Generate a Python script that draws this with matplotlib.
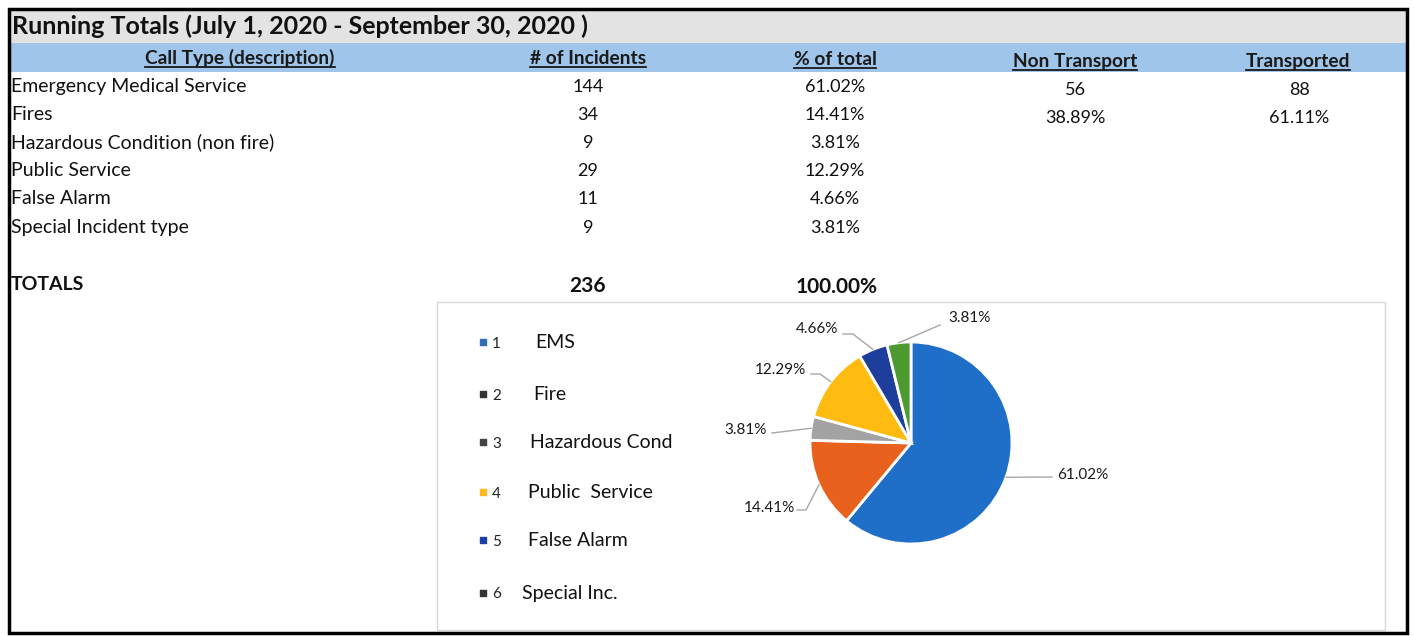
import numpy as np
import matplotlib
matplotlib.use("Agg")
import matplotlib.pyplot as plt
from matplotlib.patches import Rectangle

plt.rcParams['font.family'] = ['Lato', 'DejaVu Sans']

# data
title = "Running Totals (July 1, 2020 - September 30, 2020 )"
headers = ["Call Type (description)", "# of Incidents", "% of total", "Non Transport", "Transported"]
call_types = ["Emergency Medical Service", "Fires", "Hazardous Condition (non fire)",
              "Public Service", "False Alarm", "Special Incident type"]
incidents = [144, 34, 9, 29, 11, 9]
non_transport = ["56", "38.89%"]
transported = ["88", "61.11%"]
legend_nums = ["1", "2", "3", "4", "5", "6"]
legend_names = ["EMS", "Fire", "Hazardous Cond", "Public  Service", "False Alarm", "Special Inc."]
pie_colors = ["#1f6fc8", "#e8621e", "#a3a3a3", "#ffbb10", "#1e3e9c", "#4c9a30"]
legend_marker_colors = ["#2f6fb8", "#333333", "#444444", "#ffb820", "#1e3ea8", "#333333"]

total = sum(incidents)
pct = [100.0 * v / total for v in incidents]

W, H = 1414, 636
fig = plt.figure(figsize=(W / 100, H / 100), dpi=100)
ax = fig.add_axes([0, 0, 1, 1])
ax.set_xlim(0, W)
ax.set_ylim(H, 0)
ax.axis('off')

# bands
ax.add_patch(Rectangle((10, 10), 1396, 33, color="#e3e3e3", lw=0))
ax.add_patch(Rectangle((10, 43), 1396, 29, color="#9fc5ea", lw=0))

ax.text(12, 34, title, fontsize=18, fontweight='bold', va='baseline', ha='left', color="#111111")

# headers (underlined)
head_x = [240, 588, 835, 1075, 1298]
head_y = [64, 64, 65, 67, 67]
head_txt = []
for name, x, y in zip(headers, head_x, head_y):
    t = ax.text(x, y, name, fontsize=13.8, fontweight='bold', ha='center', va='baseline', color="#1a1a1a")
    head_txt.append((t, y))

# rows
row_y = [92, 120, 148, 176, 204, 233]
for i, name in enumerate(call_types):
    y = row_y[i]
    ax.text(11, y, name, fontsize=14, ha='left', va='baseline', color="#111111")
    ax.text(588, y, str(incidents[i]), fontsize=13, ha='center', va='baseline', color="#111111")
    ax.text(835, y, "%.2f%%" % pct[i], fontsize=13, ha='center', va='baseline', color="#111111")
for i in range(len(non_transport)):
    y = row_y[i] + 3
    ax.text(1075, y, non_transport[i], fontsize=13, ha='center', va='baseline', color="#111111")
    ax.text(1299, y, transported[i], fontsize=13, ha='center', va='baseline', color="#111111")

ax.text(11, 290, "TOTALS", fontsize=14, fontweight='bold', ha='left', va='baseline', color="#111111")
ax.text(588, 292, str(total), fontsize=15, fontweight='bold', ha='center', va='baseline', color="#111111")
ax.text(837, 293, "%.2f%%" % sum(pct), fontsize=15, fontweight='bold', ha='center', va='baseline', color="#111111")

# chart box
ax.add_patch(Rectangle((437, 302), 948, 328, fill=False, ec="#d8d8d8", lw=1))

# legend
leg_y = [342, 394, 442, 492, 540, 593]
leg_lx = [535, 533, 530, 528, 528, 522]
for i in range(len(legend_nums)):
    ax.scatter([483], [leg_y[i]], marker='s', s=14, color=legend_marker_colors[i], zorder=3)
    ax.text(492, leg_y[i] + 1.5, legend_nums[i], fontsize=11, ha='left', va='center', color="#222222")
    ax.text(leg_lx[i], leg_y[i], legend_names[i], fontsize=14, ha='left', va='center', color="#111111")

# pie (y axis points down, so counterclock in data = clockwise on screen)
cx, cy, r = 911, 443, 101
wedges, _ = ax.pie(incidents, colors=pie_colors, startangle=-90, counterclock=True,
                   center=(cx, cy), radius=r, frame=True,
                   wedgeprops=dict(edgecolor='white', linewidth=2))
ax.set_xlim(0, W)
ax.set_ylim(H, 0)
ax.axis('off')

# label layout: text pos, alignment, extra leader points (after edge point)
lab_pos = [(1057, 475, 'left'), (795, 508, 'right'), (767, 430, 'right'),
           (806, 370, 'right'), (838, 329, 'right'), (948, 318, 'left')]
lab_path = [[(1052, 477)], [(806, 510), (797, 510)], [(772, 433)],
            [(820, 374), (811, 374)], [(853, 334), (843, 334)], [(940, 325)]]
for w, p, (tx, ty, ha), pts in zip(wedges, pct, lab_pos, lab_path):
    ang = np.deg2rad((w.theta1 + w.theta2) / 2)
    ex, ey = cx + r * np.cos(ang), cy + r * np.sin(ang)
    xs = [ex] + [q[0] for q in pts]
    ys = [ey] + [q[1] for q in pts]
    ax.plot(xs, ys, color="#a6a6a6", lw=1, zorder=1)
    ax.text(tx, ty, "%.2f%%" % p, fontsize=11, ha=ha, va='center', color="#1a1a1a")

# underlines for headers
fig.canvas.draw()
inv = ax.transData.inverted()
for t, y in head_txt:
    bb = t.get_window_extent()
    x0 = inv.transform((bb.x0, bb.y0))[0]
    x1 = inv.transform((bb.x1, bb.y0))[0]
    ax.plot([x0, x1], [y + 3, y + 3], color="#1a1a1a", lw=1.3)

# outer border
ax.add_patch(Rectangle((9, 9), 1398, 624, fill=False, ec="black", lw=2.5))

fig.savefig("out.png", dpi=100)
